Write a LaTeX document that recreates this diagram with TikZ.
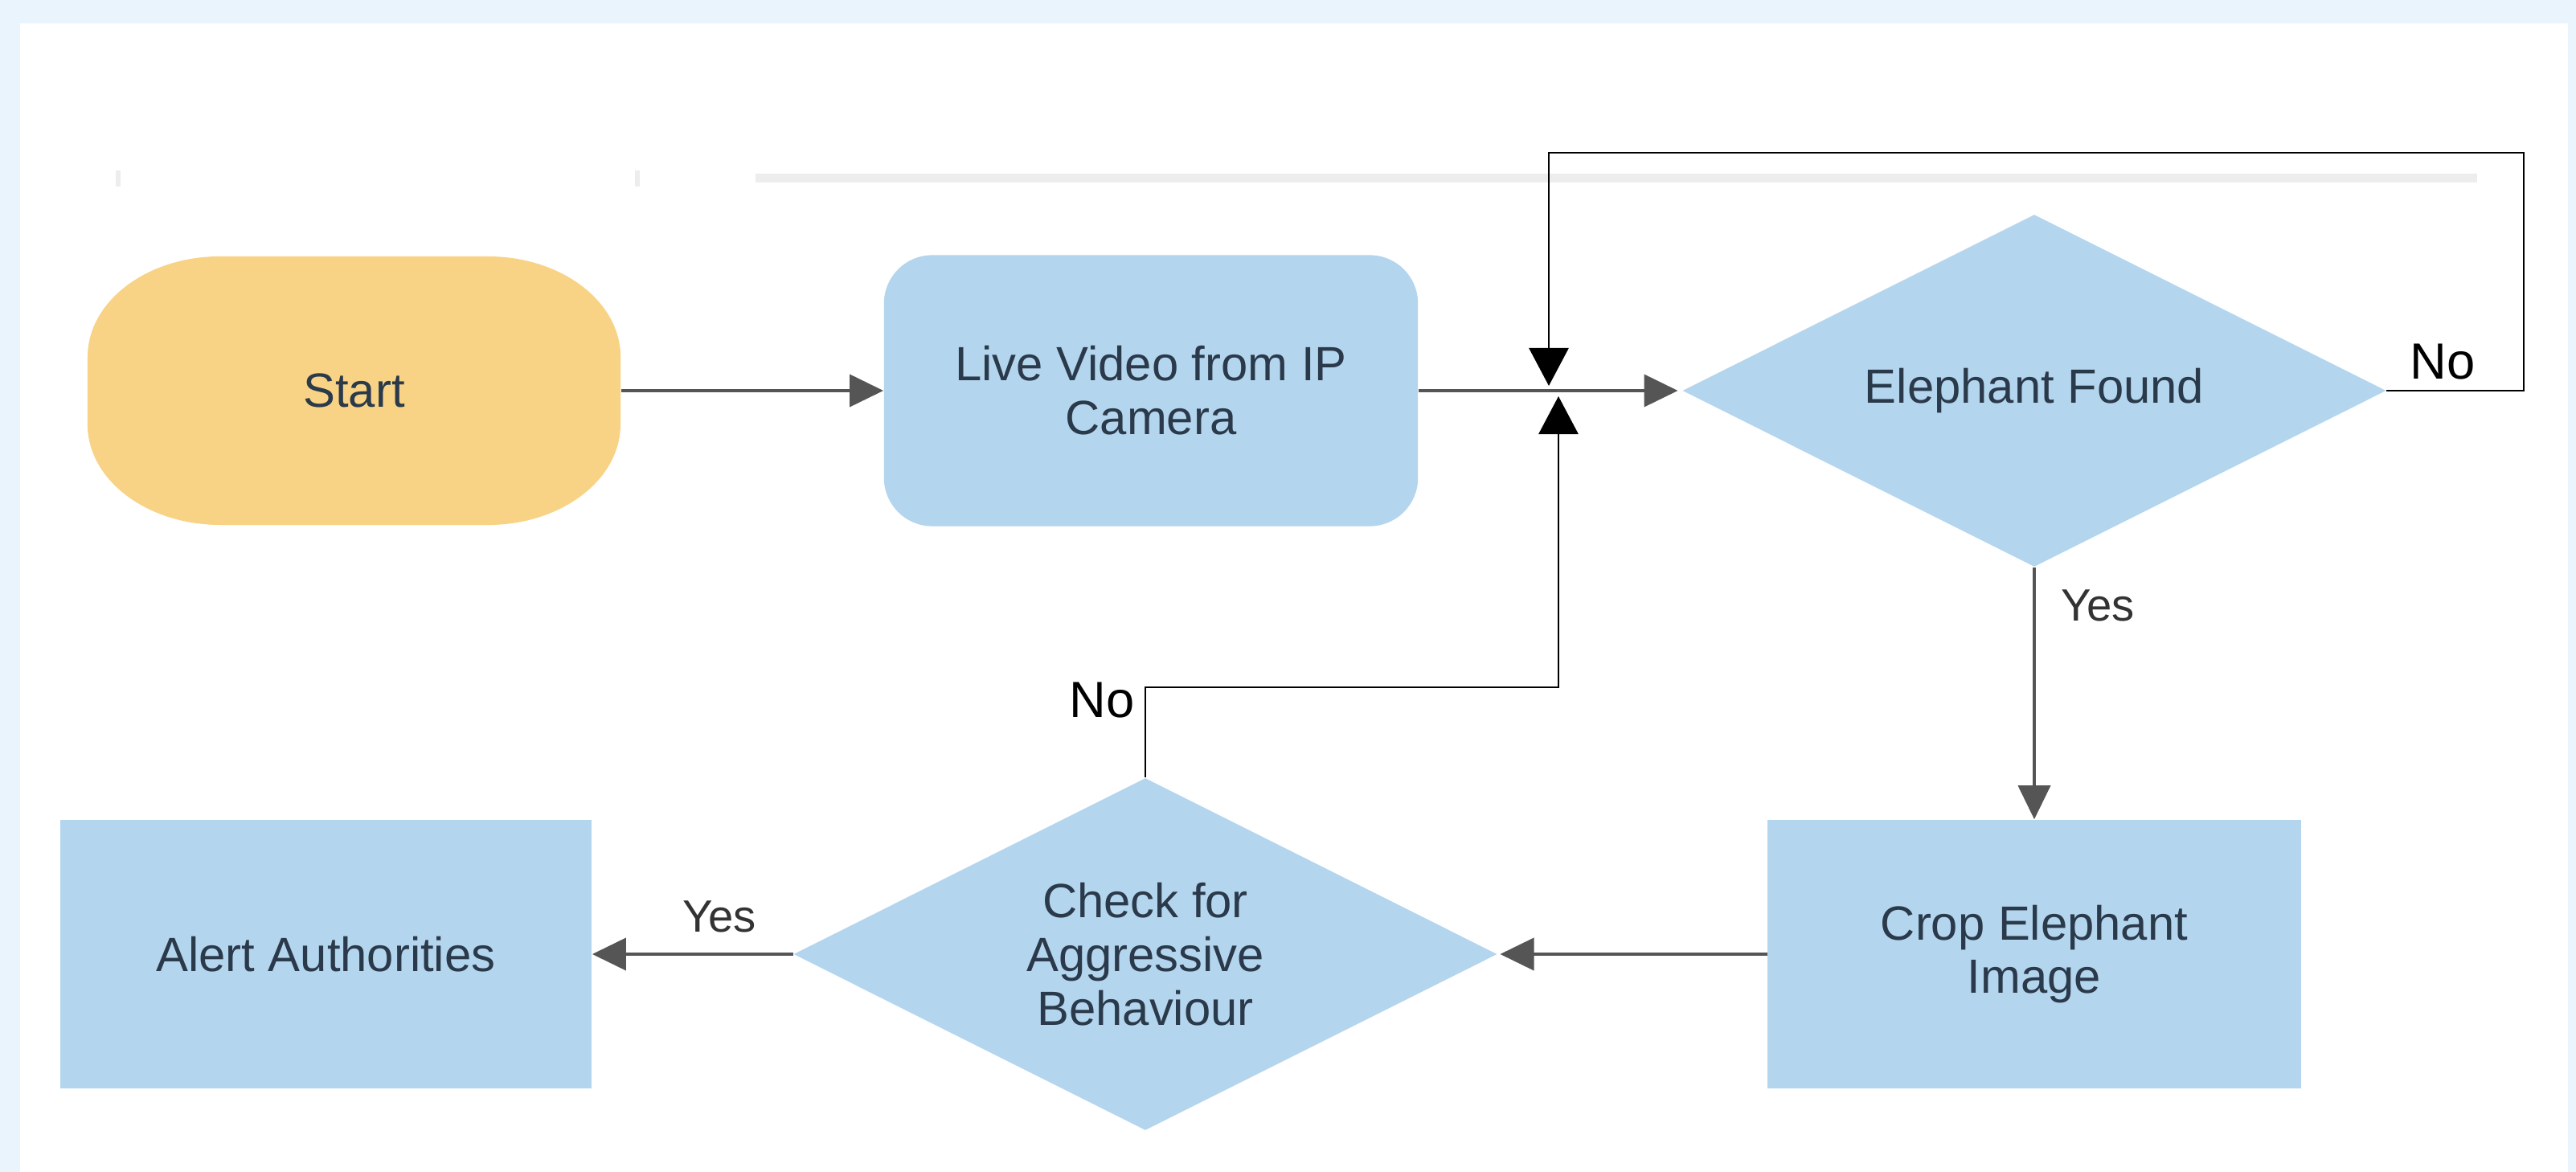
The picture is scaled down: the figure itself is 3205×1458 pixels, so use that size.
\documentclass[tikz,border=0pt]{standalone}
\usepackage{fontspec}
\setmainfont{Liberation Sans}
\usetikzlibrary{shapes.geometric,arrows.meta}
\definecolor{bgblue}{HTML}{EAF4FC}
\definecolor{boxblue}{HTML}{B3D5EE}
\definecolor{startyel}{HTML}{F8D386}
\definecolor{txt}{HTML}{2B3A4A}
\definecolor{arrgray}{HTML}{555555}
\definecolor{faint}{HTML}{EDEDED}
\begin{document}
\begin{tikzpicture}[x=0.01cm,y=-0.01cm,
  font=\fontsize{17}{19}\selectfont,
  procbox/.style={fill=boxblue, text=txt, inner sep=0pt, align=center, minimum width=6.63cm, minimum height=3.34cm},
  decision/.style={diamond, shape aspect=2, fill=boxblue, text=txt, inner sep=0pt, align=center, minimum width=8.75cm, minimum height=4.38cm},
  flow/.style={draw=arrgray, line width=1.1pt, -{Triangle[length=0.42cm,width=0.40cm]}},
  loopline/.style={draw=black, line width=0.8pt, -{Triangle[length=0.47cm,width=0.49cm]}},
  yeslbl/.style={text=black!80, font=\fontsize{16}{18}\selectfont, inner sep=0pt},
  nolbl/.style={text=black, font=\fontsize{18}{20}\selectfont, inner sep=0pt},
]
\useasboundingbox (0,0) rectangle (3205,1458);
\fill[bgblue] (0,0) rectangle (3205,1458);
\fill[white] (25,29) rectangle (3195,1458);
\fill[faint] (940,216) rectangle (3082,227);
\fill[faint] (144,212) rectangle (150,232);
\fill[faint] (790,212) rectangle (796,232);

% Start terminal
\fill[startyel] (274,319) -- (607,319)
  arc[start angle=90,end angle=0,x radius=1.65cm,y radius=1.25cm]
  -- (772,528)
  arc[start angle=0,end angle=-90,x radius=1.65cm,y radius=1.25cm]
  -- (274,653)
  arc[start angle=270,end angle=180,x radius=1.65cm,y radius=1.25cm]
  -- (109,444)
  arc[start angle=180,end angle=90,x radius=1.65cm,y radius=1.25cm] -- cycle;
\node[minimum width=6.63cm, minimum height=3.34cm, inner sep=0pt, text=txt] (start) at (440.5,486) {Start};

\node[procbox, rounded corners=0.6cm, minimum width=6.64cm, minimum height=3.37cm] (live) at (1432,486) {Live Video from IP\\Camera};
\node[decision] (found) at (2531,486) {Elephant Found};
\node[procbox] (crop) at (2531,1187) {Crop Elephant\\Image};
\node[decision] (check) at (1425,1187) {Check for\\Aggressive\\Behaviour};
\node[procbox, minimum width=6.61cm] (alert) at (405.5,1187) {Alert Authorities};

% main flow
\draw[flow] (start.east) -- (live.west);
\draw[flow, shorten >=0.05cm] (live.east) -- (found.west);
\draw[flow] (found.south) -- (crop.north);
\node[yeslbl] (yes1) at (2610,753) {Yes};
\draw[flow, shorten >=0.03cm] (crop.west) -- (check.east);
\draw[flow] (check.west) -- (alert.east);
\node[yeslbl] (yes2) at (895,1140) {Yes};

% No loops
\coordinate (j1) at (1927,480);
\coordinate (j2) at (1939,493);
\draw[loopline] (found.east) -- (3140,486) -- (3140,190) -- (1927,190) -- (j1);
\node[nolbl] (no1) at (3039,450) {No};
\draw[loopline] (check.north) -- (1425,855) -- (1939,855) -- (j2);
\node[nolbl] (no2) at (1371,871) {No};
\end{tikzpicture}
\end{document}
